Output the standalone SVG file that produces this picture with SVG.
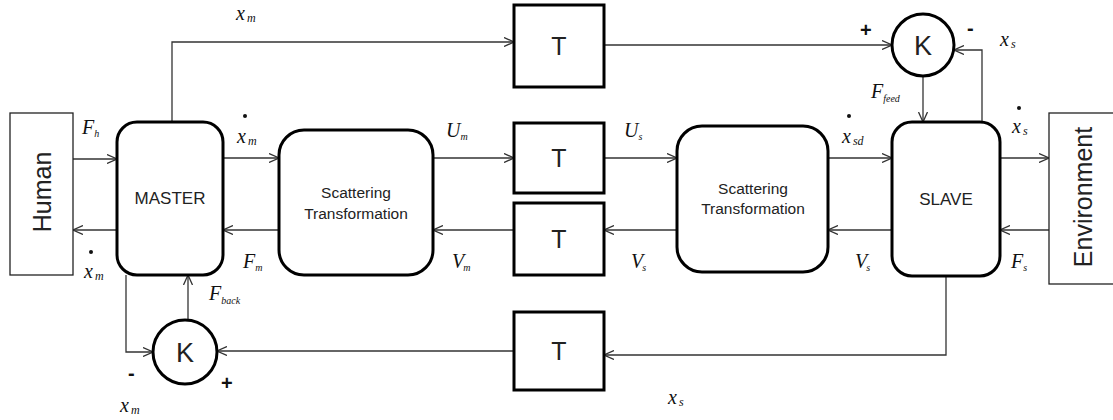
<svg xmlns="http://www.w3.org/2000/svg" width="1113" height="420" viewBox="0 0 1113 420">
<style>
.thin{fill:#fff;stroke:#222;stroke-width:1.3}
.blk{fill:#fff;stroke:#000;stroke-width:3}
.c{fill:none;stroke:#333;stroke-width:1.3}
.lbl{font-family:"Liberation Sans",Arial,sans-serif;fill:#222;text-anchor:middle}
.m{font-family:"Liberation Serif","Times New Roman",serif;font-style:italic;font-size:20px;fill:#111}
.sub{font-size:12px}
.fs{font-size:10px}
.sg{font-family:"Liberation Sans",Arial,sans-serif;font-size:20px;font-weight:bold;fill:#111}
.dot{fill:#111}
</style>
<defs>
<marker id="ah" viewBox="0 0 10 10" refX="10" refY="5" markerWidth="10" markerHeight="10" markerUnits="userSpaceOnUse" orient="auto">
<path d="M0,0.5 L10,5 L0,9.5" fill="none" stroke="#333" stroke-width="1.3"/>
</marker>
</defs>
<g id="connectors">
<path class="c" marker-end="url(#ah)" d="M73,159 H117"/>
<path class="c" marker-end="url(#ah)" d="M117,230 H73"/>
<path class="c" marker-end="url(#ah)" d="M223,158 H279"/>
<path class="c" marker-end="url(#ah)" d="M279,230 H223"/>
<path class="c" marker-end="url(#ah)" d="M433,158 H514"/>
<path class="c" marker-end="url(#ah)" d="M514,230 H433"/>
<path class="c" marker-end="url(#ah)" d="M604,158 H677"/>
<path class="c" marker-end="url(#ah)" d="M677,230 H604"/>
<path class="c" marker-end="url(#ah)" d="M828,158 H892"/>
<path class="c" marker-end="url(#ah)" d="M892,230 H828"/>
<path class="c" marker-end="url(#ah)" d="M1000,158 H1049"/>
<path class="c" marker-end="url(#ah)" d="M1049,230 H1000"/>
<path class="c" marker-end="url(#ah)" d="M172,122 V42 H514"/>
<path class="c" marker-end="url(#ah)" d="M604,45 H892"/>
<path class="c" marker-end="url(#ah)" d="M982,122 V50 H954"/>
<path class="c" marker-end="url(#ah)" d="M923,76 V122"/>
<path class="c" marker-end="url(#ah)" d="M946,276 V355 H604"/>
<path class="c" marker-end="url(#ah)" d="M514,351 H217"/>
<path class="c" marker-end="url(#ah)" d="M126,275 V352 H153"/>
<path class="c" marker-end="url(#ah)" d="M188,320 V275"/>
</g>
<g id="human"><rect class="thin" x="10" y="113" width="63" height="162"/><text class="lbl" font-size="25" transform="translate(51,192) rotate(-90)">Human</text></g>
<g id="master"><rect class="blk" x="117" y="122" width="106" height="153" rx="20"/><text class="lbl" font-size="17" x="170" y="204">MASTER</text></g>
<g id="scatter1"><rect class="blk" x="279" y="130" width="154" height="145" rx="25"/><text class="lbl" font-size="15.5" x="356" y="198">Scattering</text><text class="lbl" font-size="15.5" x="356" y="219">Transformation</text></g>
<g id="t-top"><rect class="blk" x="514" y="5" width="90" height="82"/><text class="lbl" font-size="25" x="559" y="55">T</text></g>
<g id="t-fwd"><rect class="blk" x="514" y="123" width="90" height="70"/><text class="lbl" font-size="25" x="559" y="167">T</text></g>
<g id="t-back"><rect class="blk" x="514" y="203" width="90" height="72"/><text class="lbl" font-size="25" x="559" y="248">T</text></g>
<g id="t-bottom"><rect class="blk" x="514" y="312" width="90" height="78"/><text class="lbl" font-size="25" x="559" y="360">T</text></g>
<g id="scatter2"><rect class="blk" x="677" y="126" width="151" height="146" rx="25"/><text class="lbl" font-size="15.5" x="753" y="194">Scattering</text><text class="lbl" font-size="15.5" x="753" y="214">Transformation</text></g>
<g id="slave"><rect class="blk" x="892" y="122" width="108" height="154" rx="20"/><text class="lbl" font-size="17" x="946" y="205">SLAVE</text></g>
<g id="environment"><rect class="thin" x="1049" y="113" width="80" height="171"/><text class="lbl" font-size="25" transform="translate(1092,197) rotate(-90)">Environment</text></g>
<g id="k-top"><circle class="blk" cx="923" cy="45" r="31"/><text class="lbl" font-size="27" x="923" y="55">K</text></g>
<g id="k-bottom"><circle class="blk" cx="185" cy="352" r="32"/><text class="lbl" font-size="27" x="185" y="362">K</text></g>
<g id="labels">
<text class="m" x="236" y="20">x<tspan class="sub" dx="2" dy="2">m</tspan></text>
<text class="sg" x="860" y="37">+</text>
<text class="sg" x="967" y="35">-</text>
<text class="m" x="1000" y="46">x<tspan class="sub" dx="2" dy="2">s</tspan></text>
<text class="m" x="871" y="98">F<tspan class="fs" dx="0" dy="4">feed</tspan></text>
<text class="m" x="82" y="134">F<tspan class="fs" dx="0" dy="3">h</tspan></text>
<circle class="dot" cx="245" cy="116" r="2"/>
<text class="m" x="237" y="143">x<tspan class="sub" dx="2" dy="2">m</tspan></text>
<circle class="dot" cx="91" cy="252" r="2"/>
<text class="m" x="84" y="278">x<tspan class="sub" dx="2" dy="2">m</tspan></text>
<text class="m" x="243" y="268">F<tspan class="fs" dx="0" dy="3">m</tspan></text>
<text class="m" x="446" y="137">U<tspan class="fs" dx="0" dy="3">m</tspan></text>
<text class="m" x="624" y="137">U<tspan class="fs" dx="0" dy="3">s</tspan></text>
<text class="m" x="452" y="268">V<tspan class="fs" dx="-1" dy="3">m</tspan></text>
<text class="m" x="631" y="268">V<tspan class="fs" dx="-1" dy="3">s</tspan></text>
<text class="m" x="855" y="268">V<tspan class="fs" dx="-1" dy="3">s</tspan></text>
<text class="m" x="1011" y="268">F<tspan class="fs" dx="0" dy="3">s</tspan></text>
<circle class="dot" cx="849" cy="116" r="2"/>
<text class="m" x="842" y="143">x<tspan class="sub" dx="2" dy="2">sd</tspan></text>
<circle class="dot" cx="1019" cy="108" r="2"/>
<text class="m" x="1012" y="133">x<tspan class="sub" dx="2" dy="2">s</tspan></text>
<text class="m" x="209" y="300">F<tspan class="fs" dx="0" dy="4">back</tspan></text>
<text class="sg" x="128" y="380">-</text>
<text class="sg" x="221" y="390">+</text>
<text class="m" x="120" y="412">x<tspan class="sub" dx="2" dy="2">m</tspan></text>
<text class="m" x="668" y="404">x<tspan class="sub" dx="2" dy="2">s</tspan></text>
</g>
</svg>
